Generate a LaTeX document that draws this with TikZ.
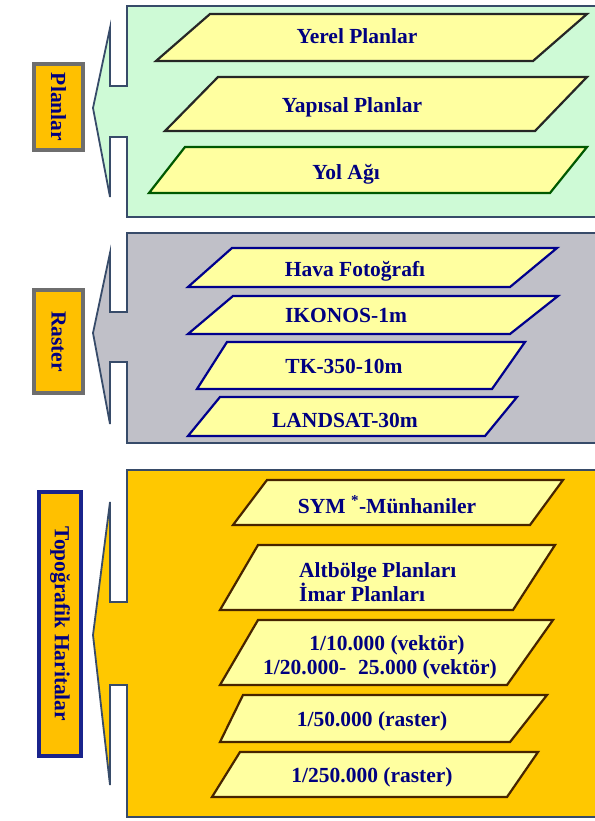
\documentclass[tikz,border=0pt]{standalone}
\usepackage{fontspec}
\setmainfont{Liberation Serif}
\usetikzlibrary{positioning}

\definecolor{navytext}{RGB}{0,0,128}
\definecolor{panelline}{RGB}{55,75,105}
\definecolor{greenbg}{RGB}{206,250,214}
\definecolor{graybg}{RGB}{192,192,200}
\definecolor{orangebg}{RGB}{255,200,0}
\definecolor{plateyellow}{RGB}{255,255,160}
\definecolor{tagorange}{RGB}{255,192,0}
\definecolor{taggray}{RGB}{110,110,110}
\definecolor{tagnavy}{RGB}{25,35,140}

\begin{document}
\begin{tikzpicture}[
  x=1pt, y=-1pt,
  panel/.style={draw=panelline, line width=1.8pt, line join=miter},
  plate/.style={draw=#1, line width=2.2pt, fill=plateyellow, line join=miter},
  plate/.default={black!85},
  label/.style={font=\fontsize{21.5}{23.5}\selectfont\bfseries, text=navytext, inner sep=0pt},
  tag/.style={draw=taggray, line width=4pt, fill=tagorange, rotate=-90, inner sep=0pt,
              font=\fontsize{21.5}{24}\selectfont\bfseries, text=navytext}
]
\useasboundingbox (0,0) rectangle (594,821);

% Planlar
\draw[panel, fill=greenbg] (600,6) -- (127,6) -- (127,86) -- (110,86) -- (110,28) -- (93,108)
  -- (110,197) -- (110,137) -- (127,137) -- (127,217) -- (600,217);
\node[tag, minimum width=86pt, minimum height=49pt] (planlar) at (58.5,107) {Planlar};

\draw[plate] (210,14) -- (587,14) -- (533,61) -- (156,61) -- cycle;
\node[label, anchor=base] (yerel) at (357,44) {Yerel Planlar};
\draw[plate] (218,77) -- (587,77) -- (535,131) -- (165,131) -- cycle;
\node[label, anchor=base] (yapisal) at (352,113) {Yapısal Planlar};
\draw[plate={green!35!black}] (185,147) -- (587,147) -- (550,193) -- (149,193) -- cycle;
\node[label, anchor=base] (yol) at (346,179) {Yol Ağı};

% Raster
\draw[panel, fill=graybg] (600,233) -- (127,233) -- (127,312) -- (110,312) -- (110,253) -- (93,333)
  -- (110,424) -- (110,362) -- (127,362) -- (127,443) -- (600,443);
\node[tag, minimum width=103pt, minimum height=49pt] (raster) at (58.5,341.5) {Raster};

\draw[plate={blue!55!black}] (232,248) -- (557,248) -- (510,287) -- (188,287) -- cycle;
\node[label, anchor=base] (hava) at (355,276) {Hava Fotoğrafı};
\draw[plate={blue!55!black}] (233,296) -- (558,296) -- (510,334) -- (188,334) -- cycle;
\node[label, anchor=base] (ikonos) at (346,322) {IKONOS-1m};
\draw[plate={blue!55!black}] (227,342) -- (525,342) -- (492,389) -- (197,389) -- cycle;
\node[label, anchor=base] (tk) at (344,373) {TK-350-10m};
\draw[plate={blue!55!black}] (220,397) -- (517,397) -- (485,436) -- (188,436) -- cycle;
\node[label, anchor=base] (landsat) at (345,427) {LANDSAT-30m};

% Topografik Haritalar
\draw[panel, fill=orangebg] (600,470) -- (127,470) -- (127,602) -- (110,602) -- (110,502) -- (93,635)
  -- (110,785) -- (110,685) -- (127,685) -- (127,817) -- (600,817);
\node[tag, draw=tagnavy, minimum width=264pt, minimum height=42pt] (topo) at (60,624) {Topoğrafik Haritalar};

\draw[plate={black!60!orange!70!black}] (267,480) -- (563,480) -- (530,525) -- (233,525) -- cycle;
\node[label, anchor=base] (sym) at (387,513) {SYM~\textsuperscript{*}-Münhaniler};
\draw[plate={black!60!orange!70!black}] (258,545) -- (555,545) -- (513,610) -- (220,610) -- cycle;
\node[label, anchor=base west, align=left] (altbolge) at (299,601) {Altbölge Planları\\İmar Planları};
\draw[plate={black!60!orange!70!black}] (258,620) -- (553,620) -- (507,685) -- (220,685) -- cycle;
\node[label, anchor=base, align=center] (vektor) at (380,674) {\hspace*{14pt}1/10.000 (vektör)\\1/20.000-\hspace{12pt}25.000 (vektör)};
\draw[plate={black!60!orange!70!black}] (243,695) -- (547,695) -- (510,742) -- (220,742) -- cycle;
\node[label, anchor=base] (elli) at (372,726) {1/50.000 (raster)};
\draw[plate={black!60!orange!70!black}] (240,752) -- (538,752) -- (507,797) -- (212,797) -- cycle;
\node[label, anchor=base] (ikiyuzelli) at (372,782) {1/250.000 (raster)};
\end{tikzpicture}
\end{document}
